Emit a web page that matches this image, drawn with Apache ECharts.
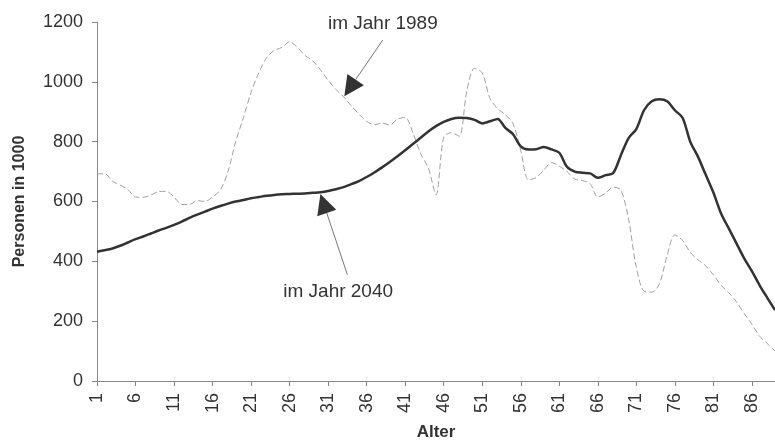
<!DOCTYPE html>
<html>
<head>
<meta charset="utf-8">
<script src="https://cdn.jsdelivr.net/npm/echarts@6/dist/echarts.min.js"></script>
<style>html,body{margin:0;padding:0;background:#fff;}#c{width:775px;height:440px;}</style>
</head>
<body>
<div id="c"></div>
<script>
const ages = [];
for (let a = 1; a <= 89; a++) ages.push(String(a));

const jahr1989 = [
  692, 693, 668, 655, 640, 615, 614, 622, 633, 634,
  615, 590, 590, 603, 600, 615, 638, 700, 800, 880,
  965, 1030, 1080, 1105, 1115, 1134, 1115, 1088, 1070, 1040,
  1005, 975, 950, 920, 892, 868, 857, 862, 856, 875,
  881, 830, 760, 712, 622, 815, 830, 818, 970, 1045,
  1030, 945, 910, 890, 860, 770, 672, 680, 705, 730,
  718, 700, 675, 670, 660, 615, 628, 648, 638, 540,
  380, 300, 297, 325, 420, 488, 470, 430, 405, 385,
  355, 320, 295, 265, 225, 190, 150, 125, 100
];

const jahr2040 = [
  432, 437, 443, 452, 463, 474, 483, 493, 503, 512,
  522, 533, 545, 556, 566, 576, 585, 593, 600, 605,
  611, 615, 619, 622, 624, 625, 626, 627, 629, 631,
  635, 641, 648, 658, 668, 682, 697, 714, 732, 751,
  771, 792, 813, 834, 852, 866, 876, 880, 879, 873,
  861, 868, 876, 846, 825, 784, 774, 775, 782, 774,
  763, 716, 700, 696, 694, 679, 688, 695, 755, 812,
  842, 905, 935, 942, 935, 905, 880, 800, 750, 690,
  630, 560, 510, 460, 410, 367, 320, 278, 237
];

const yTicks = [0, 200, 400, 600, 800, 1000, 1200];

// annotations: label, text centre (age, value), arrow tail (age, value), arrow tip (age, value)
const notes = [
  { text: 'im Jahr 1989', textAt: [38.1, 1195], tail: [38.1, 1140], tip: [33.1, 952] },
  { text: 'im Jahr 2040', textAt: [32.3, 297], tail: [33.5, 355], tip: [30.0, 625] }
];

const FONT = '"Liberation Sans", Arial, Helvetica, sans-serif';
const chart = echarts.init(document.getElementById('c'), null, { renderer: 'canvas' });

chart.setOption({
  animation: false,
  backgroundColor: '#ffffff',
  grid: { left: 97, right: 0, top: 22, bottom: 59, containLabel: false, outerBoundsMode: 'none' },
  xAxis: {
    type: 'category',
    data: ages,
    boundaryGap: false,
    name: 'Alter',
    nameLocation: 'middle',
    nameGap: 43,
    nameTextStyle: { fontFamily: FONT, fontSize: 17, fontWeight: 'bold', color: '#333' },
    axisLine: { lineStyle: { color: '#888', width: 1 } },
    axisTick: { interval: 4, length: 5, lineStyle: { color: '#888' } },
    axisLabel: { interval: 4, rotate: 90, margin: 12, fontFamily: FONT, fontSize: 18, color: '#333' },
    splitLine: { show: false }
  },
  yAxis: {
    type: 'value',
    min: 0,
    max: 1200,
    interval: 200,
    name: 'Personen in 1000',
    nameLocation: 'middle',
    nameGap: 69,
    nameTextStyle: { fontFamily: FONT, fontSize: 16, fontWeight: 'bold', color: '#333' },
    axisLine: { show: true, lineStyle: { color: '#888', width: 1 } },
    axisTick: { show: true, length: 5, lineStyle: { color: '#888' } },
    axisLabel: { margin: 14, fontFamily: FONT, fontSize: 18, color: '#333',
      formatter: v => (yTicks.indexOf(v) >= 0 ? String(v) : '') },
    splitLine: { show: false }
  },
  series: [
    {
      name: 'im Jahr 1989',
      type: 'line',
      data: jahr1989,
      showSymbol: false,
      smooth: 0.3,
      lineStyle: { color: '#a0a0a0', width: 1, type: [6, 3] },
      z: 2
    },
    {
      name: 'im Jahr 2040',
      type: 'line',
      data: jahr2040,
      showSymbol: false,
      smooth: 0.3,
      lineStyle: { color: '#333333', width: 2.5 },
      z: 3
    }
  ]
});

function px(age, val) {
  const p0 = chart.convertToPixel({ gridIndex: 0 }, [0, val]);
  const p1 = chart.convertToPixel({ gridIndex: 0 }, [ages.length - 1, val]);
  const x = p0[0] + (age - 1) / (ages.length - 1) * (p1[0] - p0[0]);
  return [x, p0[1]];
}

const graphics = [];
notes.forEach(n => {
  const t = px(n.textAt[0], n.textAt[1]);
  const a = px(n.tail[0], n.tail[1]);
  const b = px(n.tip[0], n.tip[1]);
  const dx = b[0] - a[0], dy = b[1] - a[1];
  const L = Math.sqrt(dx * dx + dy * dy);
  const ux = dx / L, uy = dy / L;
  const head = 20, half = 10;
  const bc = [b[0] - ux * head, b[1] - uy * head];
  graphics.push({
    type: 'line',
    shape: { x1: a[0], y1: a[1], x2: bc[0], y2: bc[1] },
    style: { stroke: '#777', lineWidth: 1 },
    z: 10
  });
  graphics.push({
    type: 'polygon',
    shape: { points: [b, [bc[0] - uy * half, bc[1] + ux * half], [bc[0] + uy * half, bc[1] - ux * half]] },
    style: { fill: '#333' },
    z: 10
  });
  graphics.push({
    type: 'text',
    x: t[0], y: t[1],
    style: { text: n.text, fontFamily: FONT, fontSize: 19, fill: '#333', align: 'center', verticalAlign: 'middle' },
    z: 10
  });
});
chart.setOption({ graphic: graphics });
</script>
</body>
</html>
